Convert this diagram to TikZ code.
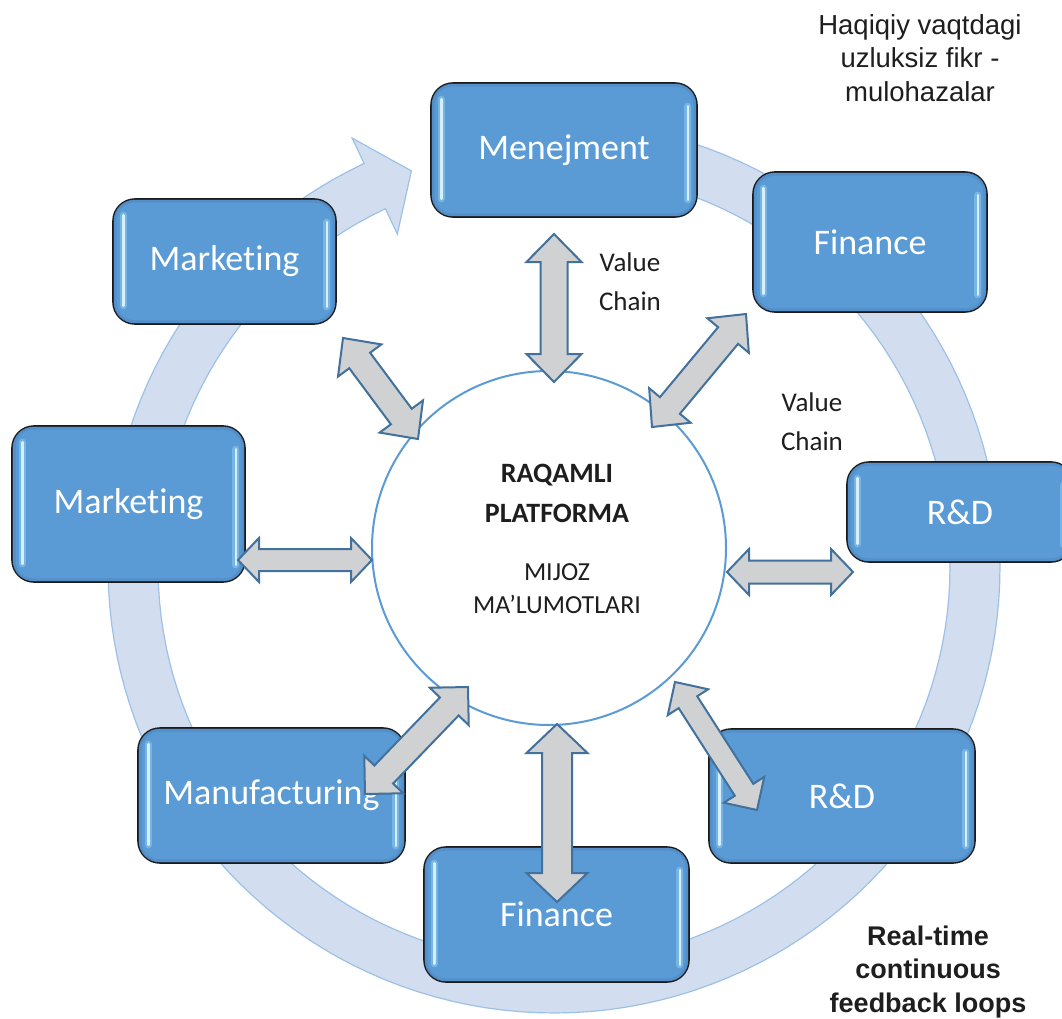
\documentclass[tikz,border=0pt]{standalone}
\usepackage{fontspec}
\setmainfont{Carlito}[Ligatures={NoCommon}]
\newfontfamily\arialf{Liberation Sans}
\usetikzlibrary{calc}
\definecolor{boxblue}{HTML}{5B9BD5}
\definecolor{boxedge}{HTML}{4F89C4}
\definecolor{hlcol}{HTML}{D6F0FF}
\definecolor{hlglowc}{HTML}{8FCBF2}
\definecolor{ringfill}{HTML}{D2DEF0}
\definecolor{ringline}{HTML}{9DC1E6}
\definecolor{arrgray}{HTML}{D0D1D3}
\definecolor{arrline}{HTML}{41719C}
\definecolor{circline}{HTML}{5B9BD5}
\definecolor{txtdark}{HTML}{1E1E1E}
\newcommand\bluebox[6]{%
  \node[box, minimum width=#4pt, minimum height=#5pt] (#1) at (#2,#3) {#6};
  \draw[inneredge] ($(#1.north west)+(3,3)$) rectangle ($(#1.south east)+(-3,-3)$);
  \draw[hlglow] ($(#1.north west)+(11,17)$) -- ($(#1.south west)+(11,-19)$);
  \draw[hl] ($(#1.north west)+(11,17)$) -- ($(#1.south west)+(11,-19)$);
  \draw[hlglow] ($(#1.north east)+(-10,24)$) -- ($(#1.south east)+(-10,-18)$);
  \draw[hl] ($(#1.north east)+(-10,24)$) -- ($(#1.south east)+(-10,-18)$);
}
% #1 start, #2 end, #3 shaft half width, #4 head half width, #5 head length
\newcommand\dblarr[5]{%
  \coordinate (h1) at ($(#1)!#5!(#2)$);
  \coordinate (h2) at ($(#2)!#5!(#1)$);
  \draw[dblarrow] (#1) -- ($(h1)!#4!90:(#2)$) -- ($(h1)!#3!90:(#2)$)
    -- ($(h2)!#3!-90:(#1)$) -- ($(h2)!#4!-90:(#1)$) -- (#2)
    -- ($(h2)!#4!90:(#1)$) -- ($(h2)!#3!90:(#1)$)
    -- ($(h1)!#3!-90:(#2)$) -- ($(h1)!#4!-90:(#2)$) -- cycle;
}
\begin{document}
\begin{tikzpicture}[x=1pt,y=-1pt,
  box/.style={rounded corners=22pt, draw=black!90, line width=1.6pt,
    fill=boxblue, text=white, font=\fontsize{36}{40}\selectfont, inner sep=0pt},
  inneredge/.style={rounded corners=19pt, draw=boxedge, line width=3pt, opacity=0.6},
  hl/.style={line width=2.6pt, draw=hlcol, line cap=round},
  hlglow/.style={line width=7pt, draw=hlglowc, line cap=round, opacity=0.55},
  dblarrow/.style={fill=arrgray, draw=arrline, line width=2pt, line join=miter},
  vc/.style={align=center, text=txtdark, font=\fontsize{27}{39}\selectfont},
  note/.style={align=center, text=txtdark, font=\arialf\fontsize{27.5}{33.5}\selectfont},
  notebold/.style={align=center, text=txtdark, font=\arialf\bfseries\fontsize{27}{33.5}\selectfont}]
\clip (0,0) rectangle (1062,1019);
\fill[white] (0,0) rectangle (1062,1019);

% circular feedback arrow
\filldraw[fill=ringfill, draw=ringline, line width=1.2pt]
  plot[domain=-90:244.8, samples=150] ({554+446*cos(\x)},{567+446*sin(\x)})
  -- ({554+474*cos(244.8)},{567+474*sin(244.8)})
  -- ({554+421*cos(250.2)},{567+421*sin(250.2)})
  -- ({554+368*cos(244.8)},{567+368*sin(244.8)})
  -- ({554+396*cos(244.8)},{567+396*sin(244.8)})
  -- plot[domain=244.8:-90, samples=150] ({554+396*cos(\x)},{567+396*sin(\x)})
  -- cycle;

% central platform
\node[circle, draw=circline, line width=2pt, fill=white, minimum size=354pt, inner sep=0pt] (plat) at (549,548) {};

% boxes
\bluebox{men}{564}{150}{266}{134}{Menejment}
\bluebox{mkT}{224.5}{261.5}{223}{125}{Marketing}
\bluebox{finT}{870}{242}{234}{140}{Finance}
\bluebox{mkL}{128.5}{504}{233}{156}{Marketing}
\bluebox{rdR}{960}{512}{226}{100}{R\&D}
\bluebox{manu}{271.5}{795.5}{267}{135}{Manufacturing}
\bluebox{finB}{556.5}{914.5}{265}{135}{Finance}
\bluebox{rdB}{842}{796}{266}{134}{R\&D}

% double arrows
\coordinate (a1s) at (554,234);  \coordinate (a1e) at (554,382);
\coordinate (a2s) at (343,338);  \coordinate (a2e) at (418,439);
\coordinate (a3s) at (746,314);  \coordinate (a3e) at (652,427);
\coordinate (a4s) at (238,560);  \coordinate (a4e) at (372,560);
\coordinate (a5s) at (727,572);  \coordinate (a5e) at (853,572);
\coordinate (a6s) at (365,794);  \coordinate (a6e) at (468,687);
\coordinate (a7s) at (557,724);  \coordinate (a7e) at (557,902);
\coordinate (a8s) at (675,682);  \coordinate (a8e) at (757,810);
\dblarr{a1s}{a1e}{13.5pt}{27.5pt}{28pt}
\dblarr{a2s}{a2e}{13pt}{27pt}{28pt}
\dblarr{a3s}{a3e}{13pt}{27pt}{28pt}
\dblarr{a4s}{a4e}{11pt}{22pt}{21pt}
\dblarr{a5s}{a5e}{11.5pt}{23pt}{22pt}
\dblarr{a6s}{a6e}{13pt}{27pt}{27pt}
\dblarr{a7s}{a7e}{15pt}{30.5pt}{29pt}
\dblarr{a8s}{a8e}{11pt}{24pt}{24pt}

% texts
\node[align=center, text=txtdark, font=\bfseries\fontsize{28}{40}\selectfont] (ttl) at (557,493) {RAQAMLI\\PLATFORMA};
\node[align=center, text=txtdark, font=\fontsize{26}{33}\selectfont] (sub) at (557,589) {MIJOZ\\MA’LUMOTLARI};
\node[vc] (vc1) at (630,282) {Value\\Chain};
\node[vc] (vc2) at (812,422) {Value\\Chain};
\node[note] (hq) at (920,58) {Haqiqiy vaqtdagi\\uzluksiz fikr -\\mulohazalar};
\node[notebold] (rt) at (928,972) {Real-time\\continuous\\feedback loops};
\end{tikzpicture}
\end{document}
